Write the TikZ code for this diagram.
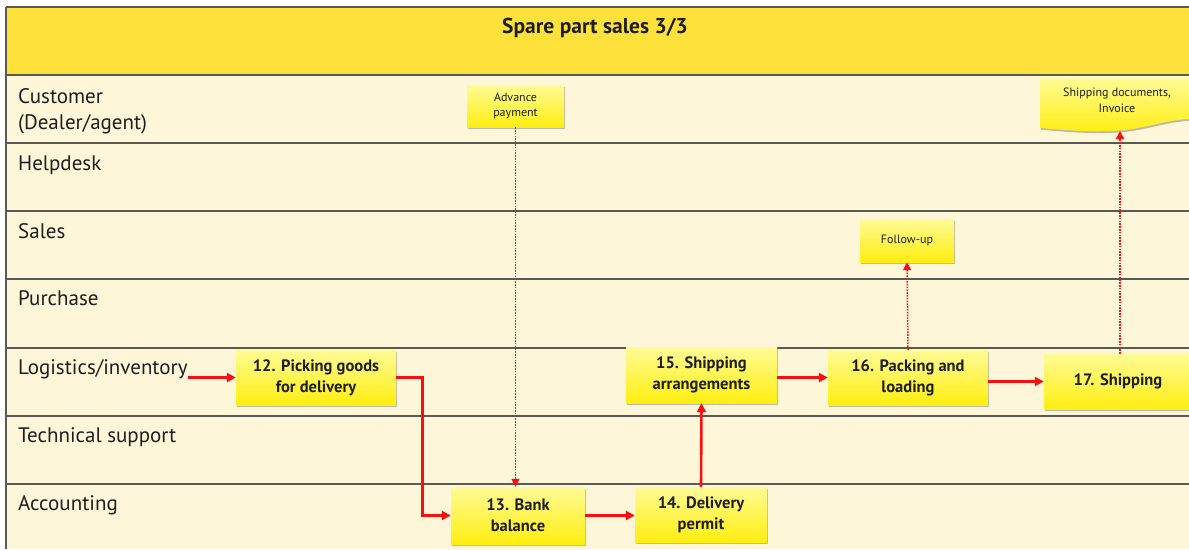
\documentclass[tikz,border=0pt]{standalone}
\usepackage{fontspec}
\setmainfont{PT Sans}
\usetikzlibrary{arrows.meta,shadows}

\definecolor{titlefill}{HTML}{FFE13B}
\definecolor{lanefill}{HTML}{FEF6D8}
\definecolor{laneline}{HTML}{5A5A55}
\definecolor{boxtop}{HTML}{FFFB96}
\definecolor{boxbottom}{HTML}{FFEE10}
\definecolor{flowred}{HTML}{F81010}
\definecolor{inktext}{HTML}{1E1E1E}

\tikzset{
  lanesep/.style={draw=laneline, line width=1.6pt},
  lanelabel/.style={anchor=north west, inner sep=0pt, align=left, text=inktext,
    font=\fontsize{21}{26}\selectfont},
  boxbase/.style={top color=boxtop, bottom color=boxbottom, draw=none,
    drop shadow={shadow xshift=1.2pt, shadow yshift=-1.8pt, opacity=0.35, fill=black!70},
    align=center, inner sep=2pt, text=inktext},
  stepbox/.style={boxbase, font=\fontsize{16.5}{21}\selectfont\bfseries},
  notebox/.style={boxbase, font=\fontsize{12}{15}\selectfont},
  flow/.style={draw=flowred, line width=2.6pt, -{Triangle[length=9pt,width=9pt]}},
  info/.style={draw=flowred, line width=1.5pt, dash pattern=on 1.6pt off 1.2pt,
    -{Triangle[length=8pt,width=8pt]}},
}

\begin{document}
\begin{tikzpicture}[x=1pt,y=-1pt]
  \useasboundingbox (0,0) rectangle (1189,549);
  \fill[white] (0,0) rectangle (1189,549);

  % header band and swim lanes
  \fill[titlefill] (6,7) rectangle (1189,75);
  \fill[lanefill] (6,75) rectangle (1189,549);
  \draw[lanesep] (6,7) -- (1189,7);
  \foreach \yy in {75,143,211,279,348,416,484}
    \draw[lanesep] (6,\yy) -- (1189,\yy);
  \draw[lanesep] (6,7) -- (6,549);

  \node[font=\fontsize{21.5}{24}\selectfont\bfseries, text=inktext] (title) at (595,28) {Spare part sales 3/3};

  % lane names
  \node[lanelabel] (lab-cust) at (18,88) {Customer\\(Dealer/agent)};
  \node[lanelabel] (lab-help) at (18,156) {Helpdesk};
  \node[lanelabel] (lab-sales) at (18,223) {Sales};
  \node[lanelabel] (lab-purch) at (18,290) {Purchase};
  \node[lanelabel] (lab-log) at (18,359) {Logistics/inventory};
  \node[lanelabel] (lab-tech) at (18,427) {Technical support};
  \node[lanelabel] (lab-acc) at (18,495) {Accounting};

  % process steps
  \node[stepbox, minimum width=160pt, minimum height=55pt] (s12) at (316,377.5) {12. Picking goods\\for delivery};
  \node[stepbox, minimum width=134pt, minimum height=57pt] (s13) at (518,515.5) {13. Bank\\balance};
  \node[stepbox, minimum width=132pt, minimum height=55pt] (s14) at (701,514.5) {14. Delivery\\permit};
  \node[stepbox, minimum width=151pt, minimum height=56pt] (s15) at (701.5,375) {15. Shipping\\arrangements};
  \node[stepbox, minimum width=160pt, minimum height=55pt] (s16) at (908,377.5) {16. Packing and\\loading};
  \node[stepbox, minimum width=148pt, minimum height=55pt] (s17) at (1118,381.5) {17. Shipping};

  % notes
  \node[notebox, minimum width=97pt, minimum height=42pt] (adv) at (515.5,106) {Advance\\payment};
  \node[notebox, minimum width=94pt, minimum height=43pt] (fol) at (907,240.5) {Follow-up};

  % document with wavy lower edge
  \path[boxbase] (1040,78) -- (1192,78) -- (1192,119)
    .. controls (1170,119) and (1150,127) .. (1125,130)
    .. controls (1095,133) and (1065,130) .. (1040,128) -- cycle;
  \node[align=center, inner sep=0pt, text=inktext, font=\fontsize{12}{16}\selectfont] (docs) at (1117,100)
    {Shipping documents,\\Invoice};
  \coordinate (docsbot) at (1120,131);

  % material flow
  \draw[flow] (lab-log.east |- s12.west) -- (s12.west);
  \draw[flow] (s12.east) -- ++(26,0) |- (s13.west);
  \draw[flow] (s13.east) -- (s13.east -| s14.west);
  \draw[flow] (s14.north) -- (s15.south);
  \draw[flow] (s16.west -| s15.east) -- (s16.west);
  \draw[flow] (s17.west -| s16.east) -- (s17.west);

  % information flow
  \draw[info] (adv.south) -- (adv.south |- s13.north);
  \draw[info] (s16.north) -- (fol.south);
  \draw[info] (s17.north -| docsbot) -- (docsbot);
\end{tikzpicture}
\end{document}
